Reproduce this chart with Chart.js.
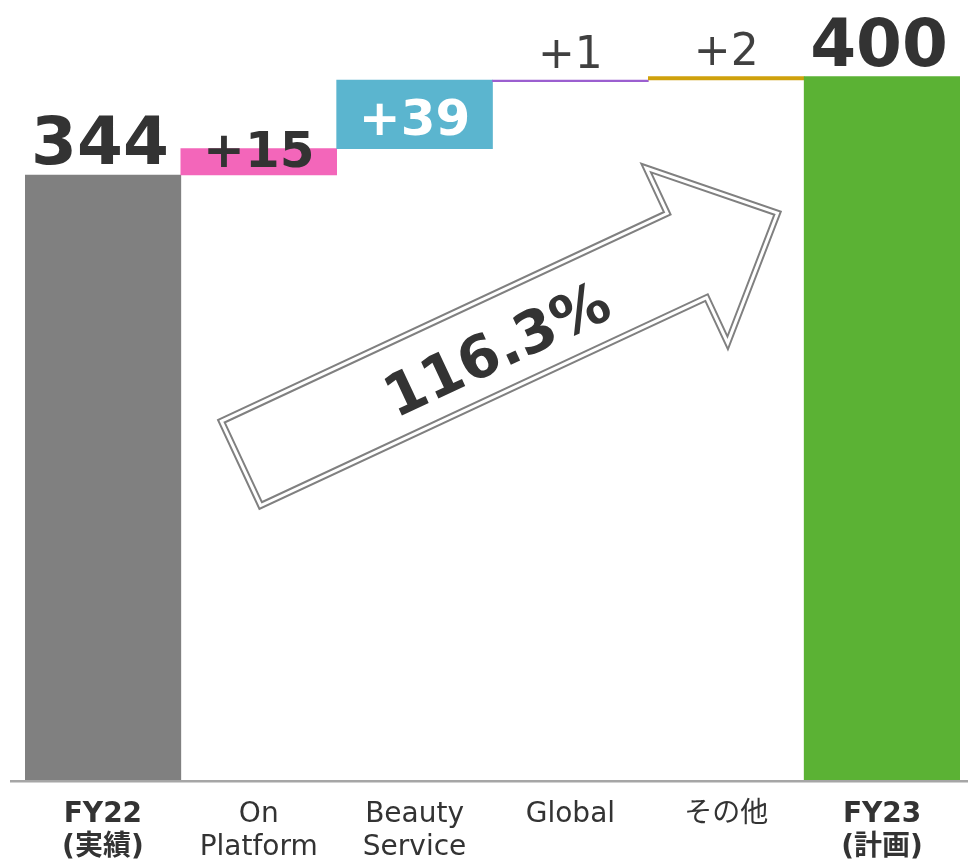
<!DOCTYPE html>
<html lang="ja">
<head>
  <meta charset="UTF-8">
  <title>FY23 計画</title>
  <script src="https://cdn.jsdelivr.net/npm/chart.js"></script>
  <style>
    html, body { margin: 0; padding: 0; background: #fff; }
    #wrap { width: 968px; height: 861px; }
  </style>
</head>
<body>

<div id="wrap"><canvas id="bridge" width="968" height="861"></canvas></div>

<script>
  // 売上ブリッジ FY22 -> FY23
  const categories = [['FY22', '(実績)'], ['On', 'Platform'], ['Beauty', 'Service'], ['Global'], ['その他'], ['FY23', '(計画)']];
  const barStart = [0, 344, 359, 397, 398, 0];
  const barEnd = [344, 359, 398, 398, 400, 400];
  const isTotal = [true, false, false, false, false, true];
  const barColors = ['#808080', '#F366BA', '#5BB5CF', '#9B5FD0', '#CFA10C', '#5BB234'];

  const FONT = "'DejaVu Sans', 'Noto Sans CJK JP', sans-serif";
  const growth = (barEnd[5] / barEnd[0] * 100).toFixed(1) + '%';

  // ラベル表示: 'top' = バーの上, 'edge' = 上端に重ねる, 'inside' = バー内
  const labelMode = ['top', 'edge', 'inside', 'top', 'top', 'top'];

  const valueLabels = {
    id: 'valueLabels',
    afterDatasetsDraw(chart) {
      const ctx = chart.ctx;
      const meta = chart.getDatasetMeta(0);
      ctx.save();
      ctx.textAlign = 'center';
      ctx.textBaseline = 'alphabetic';
      meta.data.forEach((bar, i) => {
        const diff = barEnd[i] - barStart[i];
        const text = isTotal[i] ? String(barEnd[i]) : '+' + diff;
        const top = Math.min(bar.y, bar.base);
        const mode = labelMode[i];
        let y, x = bar.x;
        if (isTotal[i]) {
          ctx.font = 'bold 66px ' + FONT;
          ctx.fillStyle = '#333333';
          y = top - 11;
          x -= 3;
        } else if (mode === 'edge') {
          ctx.font = 'bold 50px ' + FONT;
          ctx.fillStyle = '#333333';
          y = top + 18;
        } else if (mode === 'inside') {
          ctx.font = 'bold 50px ' + FONT;
          ctx.fillStyle = '#ffffff';
          y = (bar.y + bar.base) / 2 + 21;
        } else {
          ctx.font = '44px ' + FONT;
          ctx.fillStyle = '#404040';
          y = top - 12;
        }
        ctx.fillText(text, x, y);
      });
      ctx.restore();
    }
  };

  // 横軸の線 (プロット領域より少し広く引く)
  const baseLine = {
    id: 'baseLine',
    afterDatasetsDraw(chart) {
      const ctx = chart.ctx;
      const y = chart.scales.y.getPixelForValue(0);
      ctx.save();
      ctx.strokeStyle = '#A6A6A6';
      ctx.lineWidth = 2.5;
      ctx.beginPath();
      ctx.moveTo(10, y + 1.25);
      ctx.lineTo(chart.width, y + 1.25);
      ctx.stroke();
      ctx.restore();
    }
  };

  // 伸び率の矢印 (二重線)
  const growthArrow = {
    id: 'growthArrow',
    afterDatasetsDraw(chart) {
      const { ctx, scales: { x, y } } = chart;
      const x0 = x.getPixelForValue(0.76);
      const y0 = y.getPixelForValue(204);
      const ang = -25 * Math.PI / 180;
      const shaft = 492, w = 93, head = 100, barb = 50;
      ctx.save();
      ctx.translate(x0, y0);
      ctx.rotate(ang);
      ctx.beginPath();
      ctx.moveTo(0, 0);
      ctx.lineTo(shaft, 0);
      ctx.lineTo(shaft, -barb);
      ctx.lineTo(shaft + head, w / 2);
      ctx.lineTo(shaft, w + barb);
      ctx.lineTo(shaft, w);
      ctx.lineTo(0, w);
      ctx.closePath();
      ctx.fillStyle = '#ffffff';
      ctx.fill();
      ctx.lineJoin = 'miter';
      ctx.strokeStyle = '#808080';
      ctx.lineWidth = 7;
      ctx.stroke();
      ctx.strokeStyle = '#ffffff';
      ctx.lineWidth = 3;
      ctx.stroke();

      ctx.font = 'bold 58px ' + FONT;
      ctx.fillStyle = '#333333';
      ctx.textAlign = 'center';
      ctx.textBaseline = 'middle';
      ctx.fillText(growth, 280, 56);
      ctx.restore();
    }
  };

  new Chart(document.getElementById('bridge'), {
    type: 'bar',
    data: {
      labels: categories,
      datasets: [{
        data: barStart.map((s, i) => [s, barEnd[i]]),
        backgroundColor: barColors,
        borderWidth: 0,
        barPercentage: 1,
        categoryPercentage: 1
      }]
    },
    options: {
      responsive: false,
      animation: false,
      layout: { padding: { left: 25, right: 8, top: 0, bottom: 0 } },
      plugins: {
        legend: { display: false },
        tooltip: { enabled: false }
      },
      scales: {
        x: {
          grid: { display: false },
          border: { display: false },
          ticks: {
            color: '#333333',
            padding: 10,
            maxRotation: 0,
            autoSkip: false,
            font: c => ({
              family: FONT,
              size: 28,
              weight: (c.index === 0 || c.index === 5) ? 'bold' : 'normal',
              lineHeight: 1.18
            })
          },
          afterFit(scale) { scale.height = 81; }
        },
        y: {
          display: false,
          min: 0,
          max: 443.5
        }
      }
    },
    plugins: [valueLabels, baseLine, growthArrow]
  });
</script>

</body>
</html>
